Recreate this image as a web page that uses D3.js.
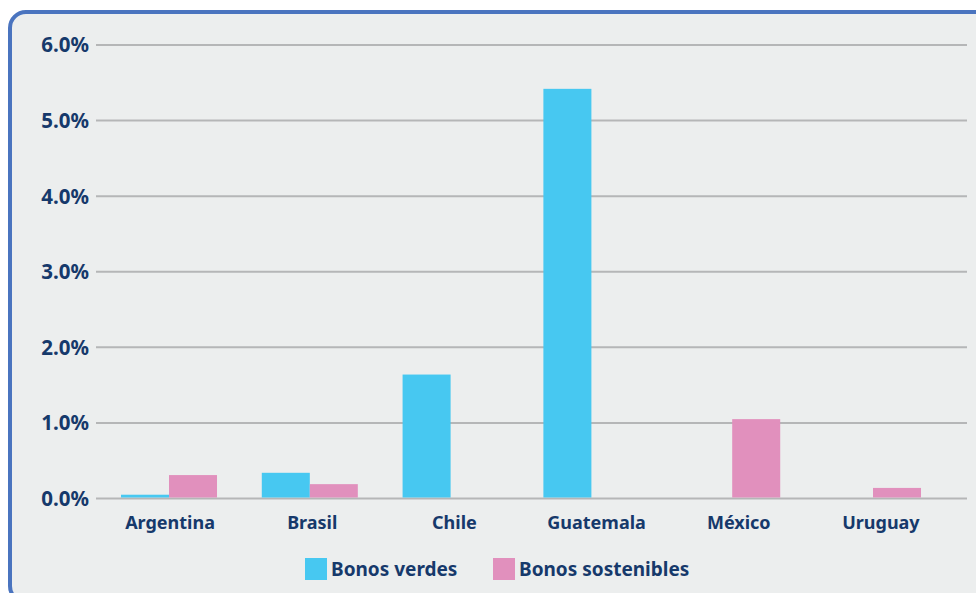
<!DOCTYPE html>
<html>
<head>
<meta charset="utf-8">
<script src="https://cdn.jsdelivr.net/npm/d3@7"></script>
<style>
  body { margin: 0; background: #fff; }
  text { font-family: "Noto Sans", Lato, sans-serif; font-weight: 700; fill: #16396b; }
</style>
</head>
<body>
<script>
// chart data
var countries = ['Argentina', 'Brasil', 'Chile', 'Guatemala', 'México', 'Uruguay']
var seriesNames = ['Bonos verdes', 'Bonos sostenibles']
var bonosVerdes = [0.05, 0.34, 1.64, 5.42, 0, 0]
var bonosSostenibles = [0.31, 0.19, 0, 0, 1.05, 0.14]
var yTicks = [0, 1, 2, 3, 4, 5, 6]
var colors = ['#47c8f1', '#e190bd']

var width = 976
var height = 593
var margin = { top: 45, right: 9, bottom: 94, left: 96 }

var svg = d3.select('body').append('svg')
  .attr('width', width)
  .attr('height', height)

// panel with rounded blue border
svg.append('rect')
  .attr('x', 10).attr('y', 12)
  .attr('width', 990).attr('height', 590)
  .attr('rx', 16)
  .attr('fill', '#eceeee')
  .attr('stroke', '#4a74bf')
  .attr('stroke-width', 4)

// bar groups sit a bit left of the full grid width
var x0 = d3.scaleBand()
  .domain(countries)
  .range([98.6, 943.4])
  .paddingInner(0.318)
  .paddingOuter(0.159)

var xLabel = d3.scaleBand()
  .domain(countries)
  .range([99, 952])

var x1 = d3.scaleBand()
  .domain(seriesNames)
  .range([0, x0.bandwidth()])

var y = d3.scaleLinear()
  .domain([0, 6])
  .range([height - margin.bottom - 0.5, margin.top])

// gridlines
svg.append('g').selectAll('line')
  .data(yTicks)
  .join('line')
  .attr('x1', margin.left)
  .attr('x2', width - margin.right)
  .attr('y1', function (d) { return y(d) })
  .attr('y2', function (d) { return y(d) })
  .attr('stroke', '#b5b6b7')
  .attr('stroke-width', 2)

// y labels
svg.append('g').selectAll('text')
  .data(yTicks)
  .join('text')
  .attr('x', 89)
  .attr('y', function (d) { return y(d) })
  .attr('dy', '0.36em')
  .attr('text-anchor', 'end')
  .style('font-size', '20.5px')
  .text(function (d) { return d.toFixed(1) + '%' })

// bars
var rows = countries.map(function (c, i) {
  return { country: c, values: [bonosVerdes[i], bonosSostenibles[i]] }
})

var group = svg.append('g').selectAll('g')
  .data(rows)
  .join('g')
  .attr('transform', function (d) { return 'translate(' + x0(d.country) + ',0)' })

group.selectAll('rect')
  .data(function (d) {
    return d.values.map(function (v, j) { return { key: seriesNames[j], value: v, j: j } })
  })
  .join('rect')
  .attr('x', function (d) { return x1(d.key) })
  .attr('width', x1.bandwidth())
  .attr('y', function (d) { return y(d.value) })
  .attr('height', function (d) { return Math.max(0, y(0) - y(d.value) - 1) })
  .attr('fill', function (d) { return colors[d.j] })

// x labels
svg.append('g').selectAll('text')
  .data(countries)
  .join('text')
  .attr('x', function (d) { return xLabel(d) + xLabel.bandwidth() / 2 })
  .attr('y', 529)
  .attr('text-anchor', 'middle')
  .style('font-size', '18px')
  .text(function (d) { return d })

// legend
var legendX = [305, 493]
var legend = svg.append('g').selectAll('g')
  .data(seriesNames)
  .join('g')
  .attr('transform', function (d, i) { return 'translate(' + legendX[i] + ',558)' })

legend.append('rect')
  .attr('width', 22).attr('height', 22)
  .attr('fill', function (d, i) { return colors[i] })

legend.append('text')
  .attr('x', 26)
  .attr('y', 17.5)
  .style('font-size', '19px')
  .text(function (d) { return d })
</script>
</body>
</html>
